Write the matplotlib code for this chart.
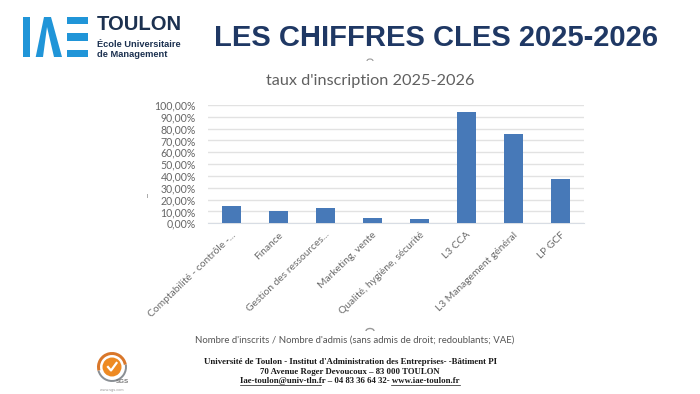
import numpy as np
import matplotlib
matplotlib.use("Agg")
import matplotlib.pyplot as plt
from matplotlib.patches import Polygon, Rectangle, Wedge, Circle, Arc
from matplotlib.transforms import ScaledTranslation

categories = ["Comptabilité - contrôle -...", "Finance", "Gestion des ressources...",
              "Marketing, vente", "Qualité, hygiène, sécurité", "L3 CCA",
              "L3 Management général", "LP GCF"]
rates = [14.6, 10.6, 12.9, 4.2, 3.4, 93.8, 75.2, 37.2]
y_ticks = [0, 10, 20, 30, 40, 50, 60, 70, 80, 90, 100]
y_labels = ["0,00%", "10,00%", "20,00%", "30,00%", "40,00%", "50,00%",
            "60,00%", "70,00%", "80,00%", "90,00%", "100,00%"]

W, H = 700, 394
fig = plt.figure(figsize=(7, 3.94), dpi=100, facecolor="white")

# chart
L, R, T, B = 207.7, 584, 105, 223.3
ax = fig.add_axes([L / W, 1 - B / H, (R - L) / W, (B - T) / H])
ax.bar(range(len(rates)), rates, width=0.41, color="#4779b8", zorder=3)
ax.set_xlim(-0.5, 7.5)
ax.set_ylim(0, 100)
ax.set_yticks(y_ticks)
ax.set_yticklabels(y_labels, family="Lato", fontsize=7.6, color="#666666")
ax.set_xticks(range(len(rates)))
ax.set_xticklabels(categories, rotation=44, ha="right", rotation_mode="anchor",
                   family="Lato", fontsize=7.4, color="#6a6a6a")
shift = ScaledTranslation(5 / 100, 0, fig.dpi_scale_trans)
for lab in ax.get_xticklabels():
    lab.set_transform(lab.get_transform() + shift)
ax.tick_params(length=0, axis="both")
ax.tick_params(axis="y", pad=8.5)
ax.tick_params(axis="x", pad=5)
ax.grid(axis="y", color="#e2e2e2", lw=1, zorder=0)
for s in ("top", "left", "right"):
    ax.spines[s].set_visible(False)
ax.spines["bottom"].set_color("#d8dde4")

# overlay in pixel space for the slide furniture
ov = fig.add_axes([0, 0, 1, 1], facecolor="none", zorder=5)
ov.set_xlim(0, W)
ov.set_ylim(H, 0)
ov.axis("off")

blue = "#2095d8"
navy = "#1f3864"
ov.add_patch(Rectangle((22.7, 17), 7.3, 40, color=blue, lw=0))
ov.add_patch(Polygon([(35.7, 57), (44, 17), (51, 17), (62, 57), (54, 57), (47, 27), (43, 57)],
                     color=blue, lw=0))
for y0, y1 in ((17, 24), (33, 41), (50, 57)):
    ov.add_patch(Rectangle((67, y0), 20.5, y1 - y0, color=blue, lw=0))
ov.text(96.5, 30, "TOULON", family="Liberation Sans", weight="bold", fontsize=14.6,
        color="#1c3150", va="baseline")
ov.text(97, 47, "École Universitaire", family="Liberation Sans", weight="bold",
        fontsize=6.7, color="#1c3150", va="baseline")
ov.text(97, 56.5, "de Management", family="Liberation Sans", weight="bold",
        fontsize=6.7, color="#1c3150", va="baseline")

ov.text(436.5, 46, "LES CHIFFRES CLES 2025-2026", family="Liberation Sans", weight="bold",
        fontsize=21, color=navy, ha="center", va="baseline")
ov.text(370, 85, "taux d'inscription 2025-2026", family="Lato", fontsize=11.7,
        color="#606060", ha="center", va="baseline")
ov.add_patch(Arc((370, 61), 6, 4, theta1=180, theta2=360, color="#999999", lw=0.8))
ov.add_patch(Arc((370, 331), 8, 5, theta1=180, theta2=360, color="#999999", lw=1))
ov.plot([146.5, 146.5], [194, 197], color="#aaaaaa", lw=0.7)

ov.text(355, 343, "Nombre d'inscrits / Nombre d'admis (sans admis de droit; redoublants; VAE)",
        family="Lato", fontsize=6.9, color="#555555", ha="center", va="baseline")
foot = dict(family="Liberation Serif", weight="bold", fontsize=6.3, color="#1a1a1a",
            ha="center", va="baseline")
ov.text(350.5, 364.5, "Université de Toulon - Institut d'Administration des Entreprises- -Bâtiment PI", **foot)
ov.text(350, 373.5, "70 Avenue Roger Devoucoux – 83 000 TOULON", **foot)
ov.text(350, 383, "Iae-toulon@univ-tln.fr – 04 83 36 64 32- www.iae-toulon.fr", **foot)
ov.plot([240, 321], [384.5, 384.5], color="#1a1a1a", lw=0.5)
ov.plot([391, 460], [384.5, 384.5], color="#1a1a1a", lw=0.5)

# certification mark
cx, cy = 112, 367
ov.add_patch(Wedge((cx, cy), 15, 165, 350, width=3, color="#d9772a", lw=0))
ov.add_patch(Wedge((cx, cy), 15, -10, 165, width=2, color="#8a8f94", lw=0))
ov.add_patch(Circle((cx, cy), 9.5, color="#ee8a22", lw=0))
ov.plot([cx - 4, cx - 1, cx + 4.5], [cy, cy + 3.5, cy - 4], color="white", lw=1.6)
ov.text(122, 383, "SGS", family="Liberation Sans", weight="bold", fontsize=4.5,
        color="#777777", ha="center", va="baseline")
ov.text(112, 390.5, "www.sgs.com", family="Liberation Sans", fontsize=2.8,
        color="#999999", ha="center", va="baseline")

fig.savefig("out.png", dpi=100)
